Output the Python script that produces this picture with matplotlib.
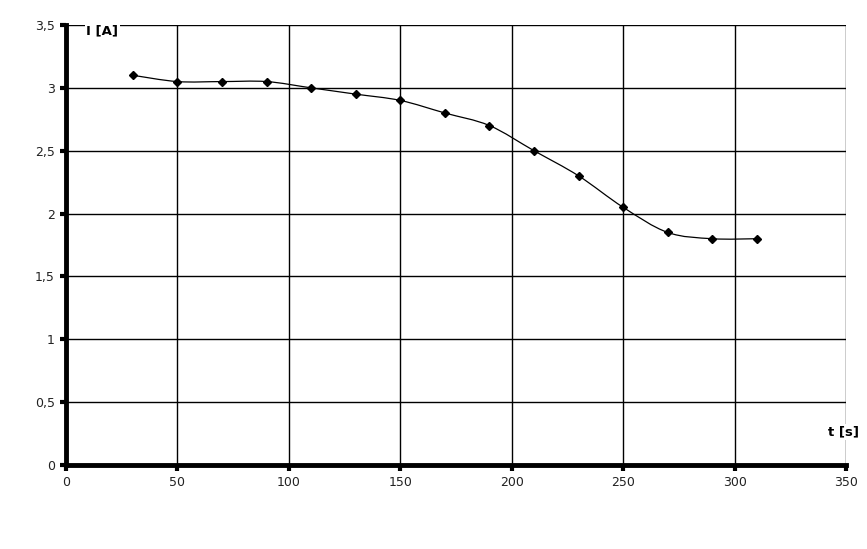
import numpy as np
import matplotlib
matplotlib.use("Agg")
import matplotlib.pyplot as plt
from matplotlib.path import Path
from matplotlib.patches import PathPatch
from matplotlib.ticker import FuncFormatter

t_s = [30, 50, 70, 90, 110, 130, 150, 170, 190, 210, 230, 250, 270, 290, 310]
i_a = [3.1, 3.05, 3.05, 3.05, 3.0, 2.95, 2.9, 2.8, 2.7, 2.5, 2.3, 2.05, 1.85, 1.8, 1.8]
x_ticks = [0, 50, 100, 150, 200, 250, 300, 350]
y_ticks = [0, 0.5, 1, 1.5, 2, 2.5, 3, 3.5]

fig = plt.figure(figsize=(8.67, 5.49), dpi=100)
ax = fig.add_axes([66/867, 1-465/549, (846-66)/867, (465-25)/549])
ax.set_xlim(0, 350)
ax.set_ylim(0, 3.5)
ax.set_xticks(x_ticks)
ax.set_yticks(y_ticks)
ax.yaxis.set_major_formatter(FuncFormatter(lambda v, p: ('%g' % v).replace('.', ',')))
ax.grid(True, color='black', linewidth=1.0)
ax.set_axisbelow(True)
for s in ['top', 'right']:
    ax.spines[s].set_visible(False)
for s in ['left', 'bottom']:
    ax.spines[s].set_linewidth(3.5)
ax.tick_params(direction='out', length=4, width=3, labelsize=9, pad=4, labelcolor='#222222')

# smoothed line (Catmull-Rom style Bezier through the data points)
xs = np.array(t_s, float); ys = np.array(i_a, float)
n = len(xs)
verts = [(xs[0], ys[0])]
codes = [Path.MOVETO]
k = 1/6
for j in range(n-1):
    p0 = j-1 if j > 0 else j
    p3 = j+2 if j+2 < n else j+1
    c1 = (xs[j] + k*(xs[j+1]-xs[p0]), ys[j] + k*(ys[j+1]-ys[p0]))
    c2 = (xs[j+1] - k*(xs[p3]-xs[j]), ys[j+1] - k*(ys[p3]-ys[j]))
    verts += [c1, c2, (xs[j+1], ys[j+1])]
    codes += [Path.CURVE4]*3
ax.add_patch(PathPatch(Path(verts, codes), facecolor='none', edgecolor='black', linewidth=0.9, zorder=3))
ax.plot(t_s, i_a, linestyle='none', marker='D', markersize=4.5, color='black', zorder=4)

ax.text(9, 3.45, 'I [A]', fontsize=9.5, fontweight='bold', ha='left', va='center',
        bbox=dict(facecolor='white', edgecolor='none', pad=1), zorder=5)
ax.text(348.7, 0.263, 't [s]', fontsize=9.5, fontweight='bold', ha='center', va='center',
        bbox=dict(facecolor='white', edgecolor='none', pad=1), zorder=5, clip_on=False)

fig.savefig('out.png', dpi=100)
